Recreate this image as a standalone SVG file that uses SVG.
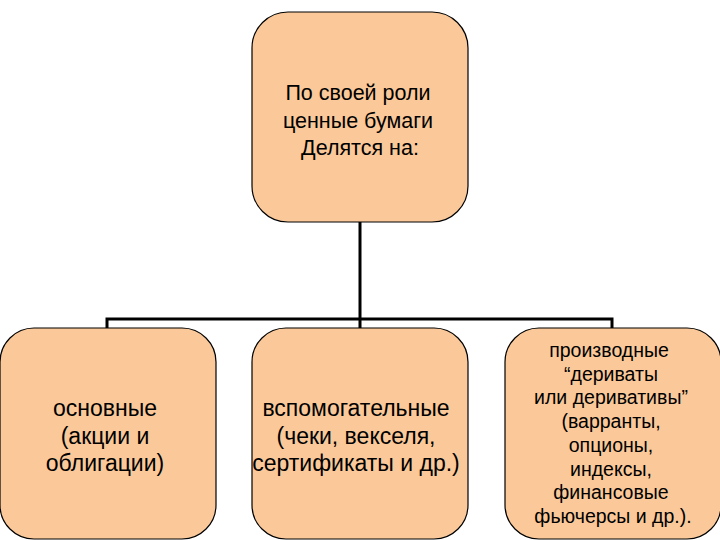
<svg xmlns="http://www.w3.org/2000/svg" width="720" height="540" viewBox="0 0 720 540">
<style>
.box{fill:#FBC999;stroke:#000;stroke-width:1.2}
.t{font-family:"Liberation Sans",Arial,sans-serif;fill:#000;text-anchor:middle}
.c{fill:none;stroke:#000;stroke-width:3}
</style>
<rect width="720" height="540" fill="#fff"/>
<g id="connectors">
<path class="c" d="M360,222 V319"/>
<path class="c" d="M107,330 V319 H612 V330 M360,319 V330"/>
</g>
<g id="root">
<rect class="box" x="252" y="12" width="216" height="210" rx="36"/>
<text class="t" font-size="21.5"><tspan x="358" y="100">По своей роли</tspan><tspan x="358" y="128">ценные бумаги</tspan><tspan x="360" y="155">Делятся на:</tspan></text>
</g>
<g id="basic">
<rect class="box" x="0" y="328" width="216" height="211" rx="34"/>
<text class="t" font-size="23"><tspan x="105" y="416">основные</tspan><tspan x="105" y="444">(акции и</tspan><tspan x="105" y="471">облигации)</tspan></text>
</g>
<g id="auxiliary">
<rect class="box" x="252" y="328" width="216" height="211" rx="34"/>
<text class="t" font-size="23"><tspan x="356" y="416">вспомогательные</tspan><tspan x="356" y="444">(чеки, векселя,</tspan><tspan x="356" y="471">сертификаты и др.)</tspan></text>
</g>
<g id="derivative">
<rect class="box" x="505" y="328" width="216" height="211" rx="34"/>
<text class="t" font-size="19.5"><tspan x="609" y="357">производные</tspan><tspan x="611" y="381">“дериваты</tspan><tspan x="611" y="404">или деривативы”</tspan><tspan x="611" y="428">(варранты,</tspan><tspan x="611" y="452">опционы,</tspan><tspan x="611" y="476">индексы,</tspan><tspan x="611" y="499">финансовые</tspan><tspan x="613" y="523">фьючерсы и др.).</tspan></text>
</g>
</svg>
